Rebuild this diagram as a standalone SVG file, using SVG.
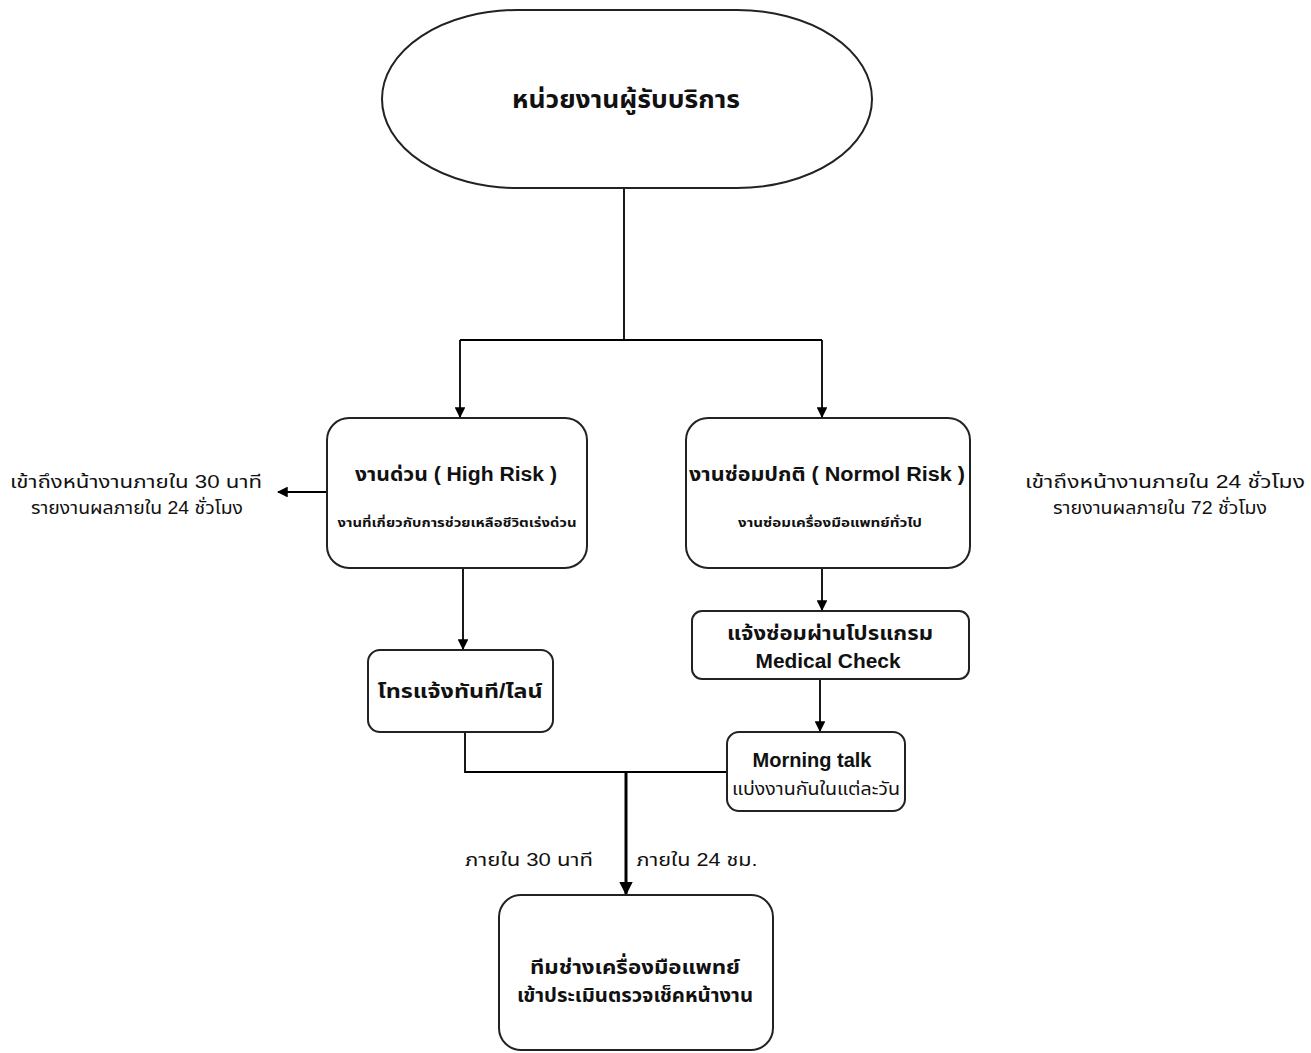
<svg xmlns="http://www.w3.org/2000/svg" width="1311" height="1053" viewBox="0 0 1311 1053">
<defs>
<marker id="ah" viewBox="0 0 10 10" refX="9" refY="5" markerWidth="6" markerHeight="6" orient="auto" markerUnits="strokeWidth">
<path d="M0,0 L10,5 L0,10 Z" fill="#000"/>
</marker>
<marker id="ah2" viewBox="0 0 10 10" refX="9" refY="5" markerWidth="4.5" markerHeight="4.5" orient="auto" markerUnits="strokeWidth">
<path d="M0,0 L10,5 L0,10 Z" fill="#000"/>
</marker>
</defs>
<style>
.box{fill:#fff;stroke:#222;stroke-width:2}
.t{font-family:"Liberation Sans","Noto Sans","Noto Sans Thai",sans-serif;fill:#111;text-anchor:middle}
.b{font-weight:bold}
.c{fill:none;stroke:#000;stroke-width:1.8}
.thick{stroke-width:3}
</style>
<rect width="1311" height="1053" fill="#fff"/>
<g id="connectors">
<polyline class="c" points="624,188 624,340"/>
<polyline class="c" points="460,340 822,340"/>
<line class="c" x1="460" y1="340" x2="460" y2="417" marker-end="url(#ah)"/>
<line class="c" x1="822" y1="340" x2="822" y2="417" marker-end="url(#ah)"/>
<line class="c" x1="327" y1="492" x2="278" y2="492" marker-end="url(#ah)"/>
<line class="c" x1="463" y1="568" x2="463" y2="649" marker-end="url(#ah)"/>
<line class="c" x1="822" y1="568" x2="822" y2="610" marker-end="url(#ah)"/>
<line class="c" x1="820" y1="679" x2="820" y2="731" marker-end="url(#ah)"/>
<polyline class="c" points="465,732 465,772 727,772"/>
<line class="c thick" x1="626" y1="772" x2="626" y2="894" marker-end="url(#ah2)"/>
</g>
<g id="n-top">
<rect class="box" x="382" y="10" width="490" height="178" rx="135" ry="89"/>
<text class="t b" x="626" y="108" font-size="25" textLength="228" lengthAdjust="spacingAndGlyphs">หน่วยงานผู้รับบริการ</text>
</g>
<g id="n-high">
<rect class="box" x="327" y="418" width="260" height="150" rx="22"/>
<text class="t b" x="456" y="481" font-size="20" textLength="202" lengthAdjust="spacingAndGlyphs">งานด่วน ( High Risk )</text>
<text class="t b" x="457" y="527" font-size="12" textLength="239" lengthAdjust="spacingAndGlyphs">งานที่เกี่ยวกับการช่วยเหลือชีวิตเร่งด่วน</text>
</g>
<g id="n-normal">
<rect class="box" x="686" y="418" width="284" height="150" rx="22"/>
<text class="t b" x="827" y="481" font-size="20" textLength="276" lengthAdjust="spacingAndGlyphs">งานซ่อมปกติ ( Normol Risk )</text>
<text class="t b" x="830" y="527" font-size="12" textLength="184" lengthAdjust="spacingAndGlyphs">งานซ่อมเครื่องมือแพทย์ทั่วไป</text>
</g>
<g id="lbl-left">
<text class="t" x="136" y="488" font-size="18" textLength="252" lengthAdjust="spacingAndGlyphs">เข้าถึงหน้างานภายใน 30 นาที</text>
<text class="t" x="137" y="514" font-size="18" textLength="212" lengthAdjust="spacingAndGlyphs">รายงานผลภายใน 24 ชั่วโมง</text>
</g>
<g id="lbl-right">
<text class="t" x="1165" y="488" font-size="18" textLength="280" lengthAdjust="spacingAndGlyphs">เข้าถึงหน้างานภายใน 24 ชั่วโมง</text>
<text class="t" x="1160" y="514" font-size="18" textLength="214" lengthAdjust="spacingAndGlyphs">รายงานผลภายใน 72 ชั่วโมง</text>
</g>
<g id="n-phone">
<rect class="box" x="368" y="650" width="185" height="82" rx="12"/>
<text class="t b" x="460" y="698" font-size="20" textLength="165" lengthAdjust="spacingAndGlyphs">โทรแจ้งทันที/ไลน์</text>
</g>
<g id="n-program">
<rect class="box" x="692" y="611" width="277" height="68" rx="10"/>
<text class="t b" x="830" y="640" font-size="20" textLength="206" lengthAdjust="spacingAndGlyphs">แจ้งซ่อมผ่านโปรแกรม</text>
<text class="t b" x="828" y="668" font-size="20" textLength="145" lengthAdjust="spacingAndGlyphs">Medical Check</text>
</g>
<g id="n-morning">
<rect class="box" x="727" y="732" width="178" height="79" rx="12"/>
<text class="t b" x="812" y="767" font-size="20">Morning talk</text>
<text class="t" x="816" y="795" font-size="18" textLength="168" lengthAdjust="spacingAndGlyphs">แบ่งงานกันในแต่ละวัน</text>
</g>
<g id="lbl-mid">
<text class="t" x="529" y="866" font-size="18" textLength="128" lengthAdjust="spacingAndGlyphs">ภายใน 30 นาที</text>
<text class="t" x="697" y="866" font-size="18" textLength="121" lengthAdjust="spacingAndGlyphs">ภายใน 24 ชม.</text>
</g>
<g id="n-team">
<rect class="box" x="499" y="895" width="274" height="155" rx="22"/>
<text class="t b" x="635" y="974" font-size="20" textLength="210" lengthAdjust="spacingAndGlyphs">ทีมช่างเครื่องมือแพทย์</text>
<text class="t b" x="635" y="1002" font-size="20" textLength="236" lengthAdjust="spacingAndGlyphs">เข้าประเมินตรวจเช็คหน้างาน</text>
</g>
</svg>
